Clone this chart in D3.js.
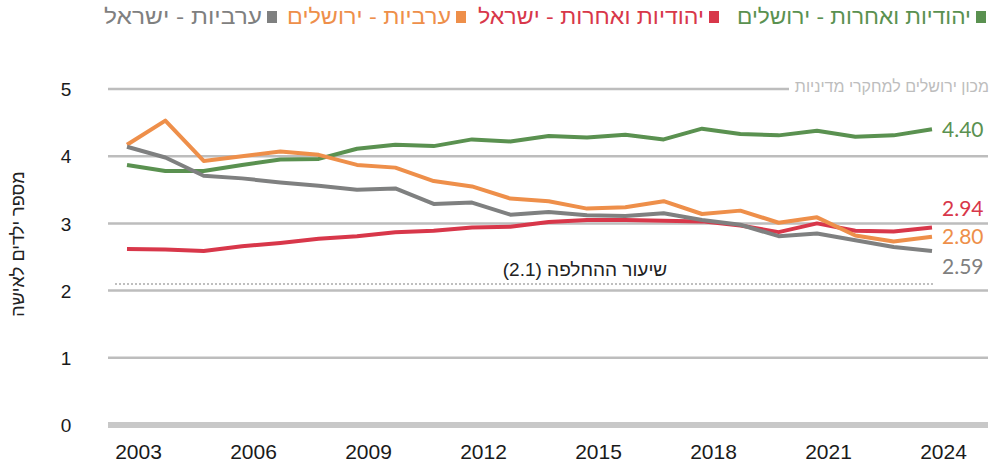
<!DOCTYPE html>
<html><head><meta charset="utf-8">
<script src="https://cdn.jsdelivr.net/npm/d3@7"></script>
<style>
html,body{margin:0;padding:0;background:#fff;}
svg{display:block;}
</style></head>
<body>
<svg id="chart" width="998" height="467"></svg>
<script>
const years = [2003,2004,2005,2006,2007,2008,2009,2010,2011,2012,2013,2014,2015,2016,2017,2018,2019,2020,2021,2022,2023,2024];
const jewsJerusalem = [3.87,3.78,3.78,3.87,3.95,3.96,4.11,4.17,4.15,4.25,4.22,4.30,4.28,4.32,4.25,4.41,4.33,4.31,4.38,4.29,4.31,4.40];
const jewsIsrael    = [2.62,2.61,2.59,2.66,2.71,2.77,2.81,2.87,2.89,2.94,2.95,3.02,3.05,3.05,3.04,3.03,2.97,2.87,3.00,2.89,2.88,2.94];
const arabJerusalem = [4.17,4.53,3.93,4.00,4.07,4.02,3.87,3.83,3.63,3.55,3.37,3.33,3.22,3.24,3.33,3.14,3.19,3.01,3.09,2.82,2.73,2.80];
const arabIsrael    = [4.14,3.98,3.71,3.67,3.61,3.56,3.50,3.52,3.29,3.31,3.13,3.17,3.12,3.11,3.15,3.05,2.98,2.81,2.85,2.75,2.65,2.59];
const seriesNames = ["יהודיות ואחרות - ירושלים","יהודיות ואחרות - ישראל","ערביות - ירושלים","ערביות - ישראל"];
const endLabels = ["4.40","2.94","2.80","2.59"];
const yTicks = [0,1,2,3,4,5];
const xTicks = [2003,2006,2009,2012,2015,2018,2021,2024];
const replacementRate = 2.1;
const replacementLabel = "שיעור ההחלפה (2.1)";
const yTitle = "מספר ילדים לאישה";
const sourceText = "מכון ירושלים למחקרי מדיניות";

const colors = ["#5a9150","#d8374a","#ee8f4a","#7f8080"];
const textColors = ["#5a9150","#d8374a","#ee8f4a","#7f8080"];
const seriesValues = [jewsJerusalem, jewsIsrael, arabJerusalem, arabIsrael];

const svg = d3.select("#chart");
const x = d3.scaleLinear().domain([2003,2024]).range([127,932]);
const y = d3.scaleLinear().domain([0,5]).range([425,89]);
const gridLeft = 108, gridRight = 988;

// gridlines
const grid = svg.append("g");
yTicks.filter(t => t > 0).forEach(t => {
  grid.append("line")
    .attr("x1", gridLeft).attr("x2", t === 5 ? 789 : gridRight)
    .attr("y1", y(t)).attr("y2", y(t))
    .attr("stroke", "#bdbdbd").attr("stroke-width", 2.5);
});
// baseline
svg.append("line").attr("x1", gridLeft).attr("x2", gridRight)
  .attr("y1", y(0)).attr("y2", y(0))
  .attr("stroke", "#c8c8c8").attr("stroke-width", 6);

// replacement rate dotted line
svg.append("line").attr("x1", 115).attr("x2", 935)
  .attr("y1", y(replacementRate)).attr("y2", y(replacementRate))
  .attr("stroke", "#bfbfbf").attr("stroke-width", 2).attr("stroke-dasharray", "2,2");
svg.append("text").attr("x", 585).attr("y", y(replacementRate) - 8)
  .attr("direction", "rtl").attr("text-anchor", "middle")
  .attr("font-family", "Liberation Sans, Arial, sans-serif").attr("font-size", 19)
  .attr("fill", "#222").text(replacementLabel);

// y axis
const yAxis = d3.axisLeft(y).tickValues(yTicks).tickSize(0).tickPadding(0).tickFormat(d3.format("d"));
const ya = svg.append("g").attr("transform", "translate(66,0)").call(yAxis);
ya.select(".domain").remove();
ya.selectAll("text").attr("text-anchor", "middle").attr("dy", "0.35em")
  .attr("font-family", "Liberation Sans, Arial, sans-serif").attr("font-size", 19).attr("fill", "#1a1a1a");

// x axis
const xAxis = d3.axisBottom(x).tickValues(xTicks).tickSize(0).tickPadding(0).tickFormat(d3.format("d"));
const xa = svg.append("g").attr("transform", "translate(11,444)").call(xAxis);
xa.select(".domain").remove();
xa.selectAll("text").attr("dy", "0.72em")
  .attr("font-family", "Liberation Sans Narrow, Liberation Sans, Arial, sans-serif").attr("font-size", 21).attr("fill", "#1a1a1a");

// y title
svg.append("text").attr("transform", "translate(24,244) rotate(-90)")
  .attr("direction", "rtl").attr("text-anchor", "middle")
  .attr("font-family", "Liberation Sans, Arial, sans-serif").attr("font-size", 18)
  .attr("fill", "#222").text(yTitle);

// source
svg.append("text").attr("x", 989).attr("y", 92)
  .attr("direction", "rtl").attr("text-anchor", "start")
  .attr("font-family", "Liberation Sans, Arial, sans-serif").attr("font-size", 16)
  .attr("fill", "#bdbdbd").text(sourceText);

// lines
const line = d3.line().x((d,i) => x(years[i])).y(d => y(d));
[0,1,2,3].forEach(k => {
  svg.append("path").datum(seriesValues[k])
    .attr("d", line).attr("fill", "none")
    .attr("stroke", colors[k]).attr("stroke-width", 4)
    .attr("stroke-linejoin", "round");
});

// end labels
const labelShift = [0, -19, 0, 15];
seriesValues.forEach((vals, k) => {
  svg.append("text").attr("x", 942).attr("y", y(vals[vals.length-1]) + labelShift[k])
    .attr("dy", "0.36em")
    .attr("font-family", "Lato, Open Sans, sans-serif").attr("font-size", 21)
    .attr("fill", textColors[k]).text(endLabels[k]);
});

// legend (RTL)
const legendSquareX = [976, 709, 456, 267];
const legendTextWidth = [234, 226, 164, 158];
const leg = svg.append("g");
seriesNames.forEach((name, k) => {
  leg.append("rect").attr("x", legendSquareX[k]).attr("y", 11).attr("width", 10).attr("height", 12)
    .attr("fill", colors[k]);
  leg.append("text").attr("x", legendSquareX[k] - 5).attr("y", 24)
    .attr("direction", "rtl").attr("text-anchor", "start")
    .attr("font-family", "Liberation Sans, Arial, sans-serif").attr("font-size", 21)
    .attr("textLength", legendTextWidth[k]).attr("lengthAdjust", "spacingAndGlyphs")
    .attr("fill", textColors[k]).text(name);
});
</script>
</body></html>
